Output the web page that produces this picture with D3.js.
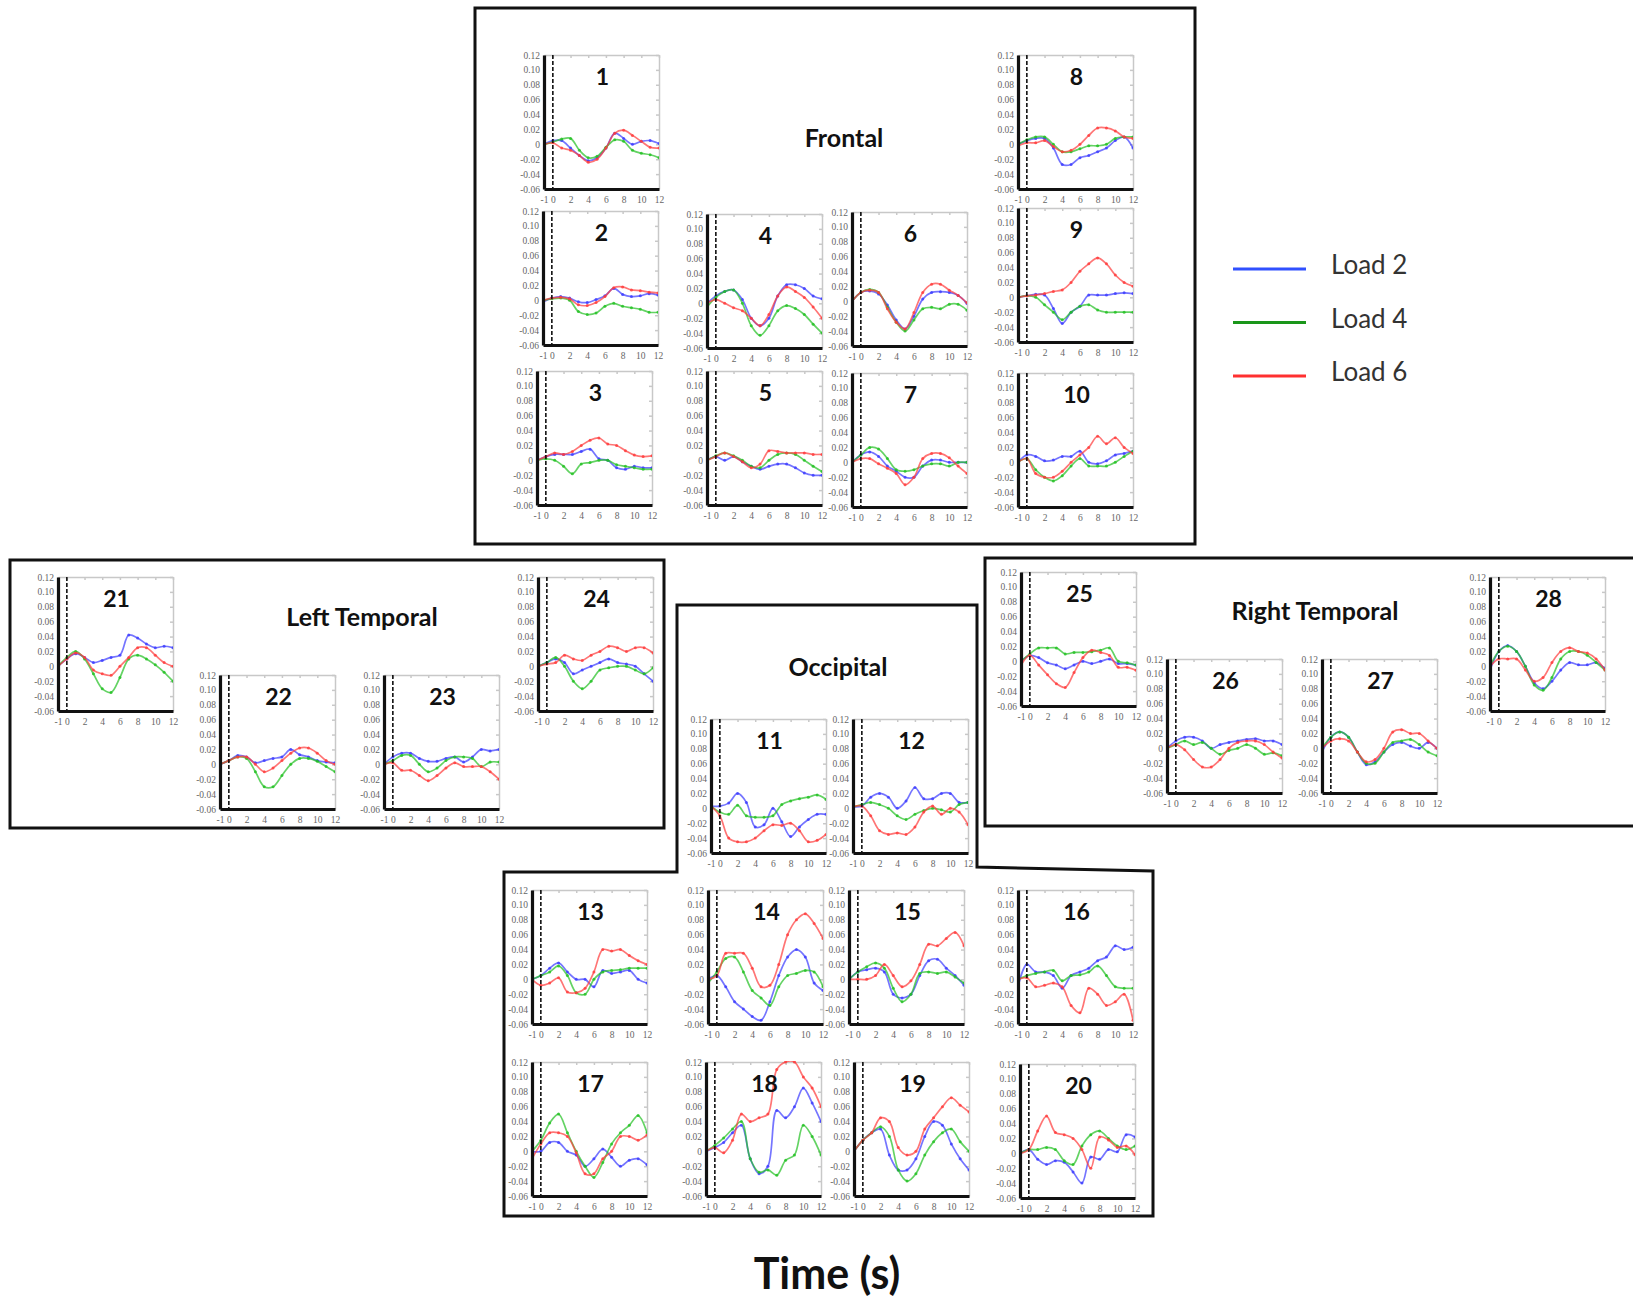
<!DOCTYPE html>
<html>
<head>
<meta charset="utf-8">
<script src="https://cdn.jsdelivr.net/npm/d3@7"></script>
<style>
  body { margin: 0; background: #fff; }
  svg { display: block; }
</style>
</head>
<body>
<div id="chart"></div>
<script>
// ---- data ----
const times = [-1, 0, 1, 2, 3, 4, 5, 6, 7, 8, 9, 10, 11, 12];
const xTicks = [-1, 0, 2, 4, 6, 8, 10, 12];
const yTicks = [-0.06, -0.04, -0.02, 0, 0.02, 0.04, 0.06, 0.08, 0.10, 0.12];
const seriesNames = ['Load 2', 'Load 4', 'Load 6'];
const regionNames = ['Frontal', 'Left Temporal', 'Right Temporal', 'Occipital'];

// one row per channel 1..28
const load2 = [
  [0, .005, .005, -.005, -.015, -.022, -.018, -.005, .015, .008, 0, .004, .005, .001],
  [-.002, .003, .005, .003, -.002, -.003, .001, .006, .016, .008, .005, .006, .009, .007],
  [0, .005, .008, .008, .008, .012, .015, .002, 0, -.01, -.012, -.008, -.01, -.01],
  [0, .01, .016, .018, .005, -.02, -.03, -.02, .01, .025, .025, .02, .01, .006],
  [0, .005, 0, .005, -.002, -.008, -.012, -.008, -.005, -.005, -.01, -.017, -.02, -.02],
  [0, .012, .014, .01, -.005, -.025, -.037, -.02, .003, .012, .013, .012, .008, -.003],
  [0, .01, .014, .008, -.005, -.012, -.02, -.02, -.005, .003, .003, 0, 0, 0],
  [0, .005, .008, .008, -.005, -.027, -.027, -.018, -.015, -.01, -.005, .005, .01, -.005],
  [0, .002, .004, .003, -.015, -.035, -.02, -.012, .003, .003, .003, .005, .006, .005],
  [0, .01, .008, .002, .003, .008, .008, .015, 0, -.002, .002, .01, .012, .015],
  [.003, .003, .007, .02, .008, -.025, -.022, 0, -.018, -.038, -.025, -.015, -.008, -.008],
  [.002, .003, .015, .02, .015, 0, .01, .028, .013, .013, .02, .02, .008, .008],
  [0, .005, .015, .022, .01, 0, 0, -.01, .012, .008, .01, .012, 0, -.005],
  [0, .005, -.01, -.03, -.04, -.05, -.055, -.03, .005, .03, .04, .03, -.005, -.015],
  [0, .01, .013, .015, .01, -.02, -.025, -.02, .005, .025, .027, .015, .005, -.008],
  [-.01, .02, .01, .01, .005, -.012, .005, .01, .015, .025, .03, .045, .04, .043],
  [0, 0, .012, .012, 0, -.005, -.02, -.01, .003, -.008, -.02, -.012, -.01, -.018],
  [0, .005, .012, .025, .035, -.01, -.03, -.02, .055, .045, .06, .085, .065, .04],
  [0, .015, .025, .03, -.005, -.025, -.025, -.01, .02, .04, .035, .01, -.01, -.025],
  [0, .005, -.008, -.015, -.01, -.012, -.025, -.04, -.005, -.008, .005, .002, .025, .022],
  [0, .01, .017, .012, .005, .008, .012, .015, .042, .038, .03, .025, .027, .025],
  [0, .005, .012, .01, .002, .005, .008, .01, .02, .013, .01, .005, .003, .002],
  [0, .01, .015, .015, .008, .004, .004, .008, .01, .003, .01, .02, .018, .02],
  [0, .005, .01, .005, -.01, -.005, 0, .005, .01, .005, .003, 0, -.01, -.02],
  [0, .008, .005, -.002, -.005, -.01, -.005, 0, -.003, 0, .003, -.003, -.003, -.005],
  [0, .01, .015, .015, .01, 0, .005, .008, .01, .012, .013, .01, .01, .005],
  [-.005, .015, .022, .015, -.005, -.022, -.018, -.005, .005, .008, .003, 0, .008, 0],
  [-.005, .02, .028, .02, 0, -.022, -.03, -.02, -.005, .005, .002, .002, .005, -.003]
];
const load4 = [
  [0, .003, .007, .008, -.008, -.018, -.016, -.004, .006, .004, -.008, -.012, -.014, -.018],
  [0, .002, .003, 0, -.015, -.019, -.017, -.008, -.004, -.008, -.01, -.012, -.016, -.016],
  [0, .002, 0, -.008, -.018, -.005, -.003, 0, 0, -.006, -.008, -.01, -.012, -.012],
  [-.005, .008, .016, .018, 0, -.03, -.043, -.03, -.01, -.003, -.007, -.015, -.028, -.04],
  [0, .006, .01, .006, 0, -.008, -.01, 0, .008, .01, .008, 0, -.008, -.015],
  [0, .012, .016, .012, -.008, -.028, -.04, -.025, -.01, -.008, -.01, -.004, -.004, -.012],
  [0, .01, .02, .018, .005, -.01, -.012, -.01, -.005, -.002, -.002, -.005, 0, 0],
  [0, .006, .01, .01, 0, -.01, -.01, -.006, -.002, -.002, 0, .008, .01, .01],
  [0, .002, 0, -.01, -.02, -.03, -.02, -.012, -.01, -.017, -.02, -.02, -.02, -.02],
  [0, .005, -.01, -.02, -.025, -.018, -.005, .005, -.005, -.005, -.005, 0, .008, .015],
  [.003, -.005, -.008, .004, -.01, -.012, -.012, -.01, .005, .01, .013, .015, .018, .012],
  [.002, .005, .008, .005, 0, -.01, -.015, -.008, -.003, 0, -.002, -.005, .005, .008],
  [0, .005, .01, .018, .005, -.018, -.02, 0, .01, .012, .013, .015, .015, .015],
  [-.005, .01, .028, .03, .01, -.015, -.025, -.035, -.01, .005, .008, .012, .01, -.01],
  [0, .01, .017, .022, .015, -.012, -.03, -.02, .008, .01, .008, .01, .003, -.005],
  [0, .005, .008, .01, .012, -.002, .005, .006, .01, .018, .005, -.01, -.012, -.012],
  [0, .015, .038, .05, .025, 0, -.02, -.035, -.015, .01, .025, .035, .048, .025],
  [0, .008, .018, .03, .04, -.01, -.028, -.025, -.032, -.012, -.005, .035, .02, -.005],
  [0, .015, .025, .033, .02, -.025, -.04, -.03, -.005, .013, .025, .03, .013, 0],
  [0, .005, .005, .008, .005, -.01, -.015, .01, .025, .03, .02, .01, .005, .01],
  [0, .012, .02, .01, -.01, -.03, -.035, -.015, .01, .015, .01, .002, -.008, -.02],
  [0, .005, .01, .008, -.01, -.03, -.03, -.015, 0, .008, .008, .004, -.003, -.01],
  [0, .005, .012, .012, 0, -.01, -.005, .005, .01, .01, .008, -.003, .003, .003],
  [0, .005, .012, 0, -.02, -.03, -.02, -.005, -.002, 0, 0, -.005, -.01, -.002],
  [0, .01, .018, .018, .018, .01, .012, .012, .013, .015, .018, 0, -.002, -.005],
  [0, .005, .01, .005, .008, 0, -.008, -.003, 0, .005, 0, -.008, -.006, -.01],
  [0, .015, .022, .015, -.005, -.02, -.02, -.005, .008, .01, .012, .005, -.005, -.01],
  [0, .02, .027, .02, 0, -.025, -.032, -.015, .01, .02, .02, .015, .005, -.005]
];
const load6 = [
  [0, .002, -.005, -.008, -.015, -.024, -.02, -.005, .015, .019, .012, .004, -.004, -.005],
  [0, .003, .004, .002, -.006, -.007, -.003, .005, .017, .018, .014, .013, .011, .01],
  [0, .005, .01, .008, .012, .02, .027, .03, .022, .02, .013, .007, .005, .006],
  [0, .005, 0, -.006, -.01, -.02, -.03, -.015, .01, .022, .016, .008, -.005, -.02],
  [0, .005, .01, .005, -.002, -.01, -.005, .013, .012, .01, .01, .01, .008, .008],
  [0, .012, .015, .012, -.01, -.028, -.037, -.015, .012, .023, .023, .015, .008, -.002],
  [0, .005, .005, -.002, -.008, -.015, -.03, -.02, .005, .012, .012, .006, -.005, -.015],
  [-.002, .002, .002, .005, -.003, -.01, -.008, 0, .012, .022, .022, .018, .01, .008],
  [0, .002, .003, .005, .008, .01, .02, .035, .045, .053, .045, .03, .02, .015],
  [0, .005, -.015, -.02, -.02, -.012, 0, .01, .02, .035, .025, .033, .02, .012],
  [.003, -.01, -.04, -.045, -.045, -.04, -.03, -.022, -.023, -.02, -.03, -.045, -.043, -.035],
  [.002, .003, -.01, -.03, -.035, -.033, -.035, -.025, -.005, .003, -.008, 0, -.005, -.022],
  [0, -.008, -.005, .002, -.017, -.018, -.012, .01, .04, .038, .04, .032, .025, .02],
  [0, .005, .035, .035, .035, .015, -.01, -.008, .02, .06, .08, .088, .075, .055],
  [0, 0, 0, .005, .02, .005, -.01, -.002, .02, .047, .045, .055, .063, .045],
  [0, .002, -.01, -.008, -.005, -.01, -.035, -.045, -.012, -.02, -.035, -.03, -.02, -.055],
  [-.01, .01, .025, .025, .02, -.002, -.03, -.03, -.01, 0, .02, .02, .015, .022],
  [0, .005, -.002, .015, .05, .04, .045, .05, .11, .12, .12, .1, .085, .06],
  [0, .015, .025, .045, .04, .005, -.005, 0, .03, .045, .06, .072, .062, .053],
  [0, .005, .03, .05, .028, .025, .02, .005, -.02, .022, .018, .008, .01, -.002],
  [0, .01, .018, .012, -.005, -.01, -.012, 0, .012, .025, .025, .015, .005, 0],
  [0, .005, .01, .01, 0, -.01, -.005, .005, .015, .022, .022, .015, .005, 0],
  [0, .002, -.008, -.008, -.015, -.022, -.015, -.005, .002, -.003, -.003, -.003, -.01, -.02],
  [0, .003, .005, .015, .01, .008, .015, .02, .027, .025, .02, .025, .025, .018],
  [-.005, .008, -.005, -.018, -.03, -.035, -.015, .005, .015, .012, .008, -.008, -.008, -.012],
  [0, .005, -.002, -.015, -.025, -.025, -.015, 0, .008, .01, .01, .005, -.005, -.013],
  [0, .01, .013, .01, -.005, -.018, -.015, 0, .022, .025, .02, .02, .01, 0],
  [0, .01, .01, .01, -.005, -.02, -.015, .005, .02, .025, .02, .018, .01, -.005]
];

// ---- layout ----
const W = 1633, H = 1297;
const PW = 115, PH = 134;
const colors = ['#3b3bff', '#22c022', '#ff3b3b'];
const legendColors = ['#3050ff', '#1a961a', '#ff3030'];
// top-left corner of each small plot, channel 1..28
const panelPos = [
  [544, 55], [543, 211], [537, 371], [707, 214], [707, 371], [852, 212], [852, 373],
  [1018, 55], [1018, 208], [1018, 373],
  [711, 719], [853, 719],
  [532, 890], [708, 890], [849, 890], [1018, 890],
  [532, 1062], [706, 1062], [854, 1062], [1020, 1064],
  [58, 577], [220, 675], [384, 675], [538, 577],
  [1021, 572], [1167, 659], [1322, 659], [1490, 577]
];
const regionTitlePos = [[844, 147], [362, 626], [1315, 620], [838, 676]];

const svg = d3.select('#chart')
  .append('svg')
  .attr('width', W)
  .attr('height', H)
  .style('background-color', '#fff');

// region boxes
const boxes = [
  [[475, 8], [1195, 8], [1195, 544], [475, 544]],
  [[10, 560], [664, 560], [664, 828], [10, 828]],
  [[1640, 558], [985, 558], [985, 826], [1640, 826]],
  [[677, 605], [977, 605], [977, 867], [1153, 871], [1153, 1216], [504, 1216], [504, 872], [677, 872]]
];
svg.selectAll('path.box')
  .data(boxes)
  .enter()
  .append('path')
  .attr('class', 'box')
  .attr('d', (d, i) => d3.line()(d) + (i === 2 ? '' : 'Z'))
  .attr('fill', 'none')
  .attr('stroke', '#111')
  .attr('stroke-width', 3);

svg.selectAll('text.region')
  .data(regionNames)
  .enter()
  .append('text')
  .attr('class', 'region')
  .attr('x', (d, i) => regionTitlePos[i][0])
  .attr('y', (d, i) => regionTitlePos[i][1])
  .attr('text-anchor', 'middle')
  .style('font-family', 'Lato, "Open Sans", sans-serif')
  .style('font-weight', 'bold')
  .style('font-size', '25px')
  .style('fill', '#111')
  .text(d => d);

const x = d3.scaleLinear().domain([-1, 12]).range([0, PW]);
const y = d3.scaleLinear().domain([-0.06, 0.12]).range([PH, 0]);
const yFmt = d => (Math.abs(d) < 1e-9 ? '0' : d.toFixed(2));

const line = d3.line()
  .x(d => x(d.t))
  .y(d => y(d.v))
  .curve(d3.curveCatmullRom.alpha(0.5));

panelPos.forEach((pos, i) => {
  const id = i + 1;
  const g = svg.append('g').attr('transform', `translate(${pos[0]},${pos[1]})`);

  g.append('clipPath').attr('id', 'clip' + id)
    .append('rect').attr('x', 0).attr('y', -1).attr('width', PW).attr('height', PH + 1);

  // light frame with inner ticks
  const top = g.append('g')
    .call(d3.axisTop(x).tickValues(xTicks).tickSize(-3).tickSizeOuter(0).tickFormat(''));
  const right = g.append('g').attr('transform', `translate(${PW},0)`)
    .call(d3.axisRight(y).tickValues(yTicks).tickSize(-3).tickSizeOuter(0).tickFormat(''));
  [top, right].forEach(a => a.selectAll('path, line').attr('stroke', '#c8c8c8').attr('stroke-width', 1.5));

  const series = [load2[i], load4[i], load6[i]];
  series.forEach((vals, s) => {
    const pts = times.map((t, k) => ({ t: t, v: vals[k] }));
    const sg = g.append('g').attr('clip-path', `url(#clip${id})`);
    sg.append('path')
      .attr('d', line(pts))
      .attr('fill', 'none')
      .attr('stroke', colors[s])
      .attr('stroke-opacity', 0.7)
      .attr('stroke-width', 1.7);
    sg.selectAll('circle')
      .data(pts)
      .enter()
      .append('circle')
      .attr('cx', d => x(d.t))
      .attr('cy', d => y(d.v))
      .attr('r', 1.5)
      .attr('fill', colors[s])
      .attr('fill-opacity', 0.8);
  });

  // stimulus onset
  g.append('line')
    .attr('x1', x(0)).attr('x2', x(0))
    .attr('y1', 0).attr('y2', PH)
    .attr('stroke', '#111')
    .attr('stroke-width', 1.6)
    .attr('stroke-dasharray', '4,2');

  const left = g.append('g')
    .call(d3.axisLeft(y).tickValues(yTicks).tickSize(0).tickPadding(4).tickFormat(yFmt));
  const bottom = g.append('g').attr('transform', `translate(0,${PH})`)
    .call(d3.axisBottom(x).tickValues(xTicks).tickSize(0).tickPadding(7).tickFormat(d => String(d)));
  [left, bottom].forEach(a => {
    a.select('.domain').attr('stroke', '#111').attr('stroke-width', 3.2);
    a.selectAll('text')
      .style('font-family', '"Liberation Serif", "DejaVu Serif", serif')
      .style('font-size', '9.5px')
      .style('fill', '#666');
  });

  g.append('text')
    .attr('x', PW / 2 + 1)
    .attr('y', 30)
    .attr('text-anchor', 'middle')
    .style('font-family', 'Lato, "Open Sans", sans-serif')
    .style('font-weight', 'bold')
    .style('font-size', '23px')
    .style('fill', '#111')
    .text(id);
});

// legend
const legend = svg.selectAll('g.legend')
  .data(seriesNames)
  .enter()
  .append('g')
  .attr('class', 'legend')
  .attr('transform', (d, i) => `translate(1233,${269 + i * 53.5})`);
legend.append('line')
  .attr('x1', 0).attr('x2', 73)
  .attr('stroke', (d, i) => legendColors[i])
  .attr('stroke-width', 3);
legend.append('text')
  .attr('x', 98)
  .attr('y', 5)
  .style('font-family', 'Lato, "Open Sans", sans-serif')
  .style('font-size', '26px')
  .style('fill', '#333')
  .text(d => d);

svg.append('text')
  .attr('x', 827)
  .attr('y', 1289)
  .attr('text-anchor', 'middle')
  .style('font-family', 'Lato, "Open Sans", sans-serif')
  .style('font-weight', 'bold')
  .style('font-size', '43px')
  .style('fill', '#111')
  .text('Time (s)');
</script>
</body>
</html>
